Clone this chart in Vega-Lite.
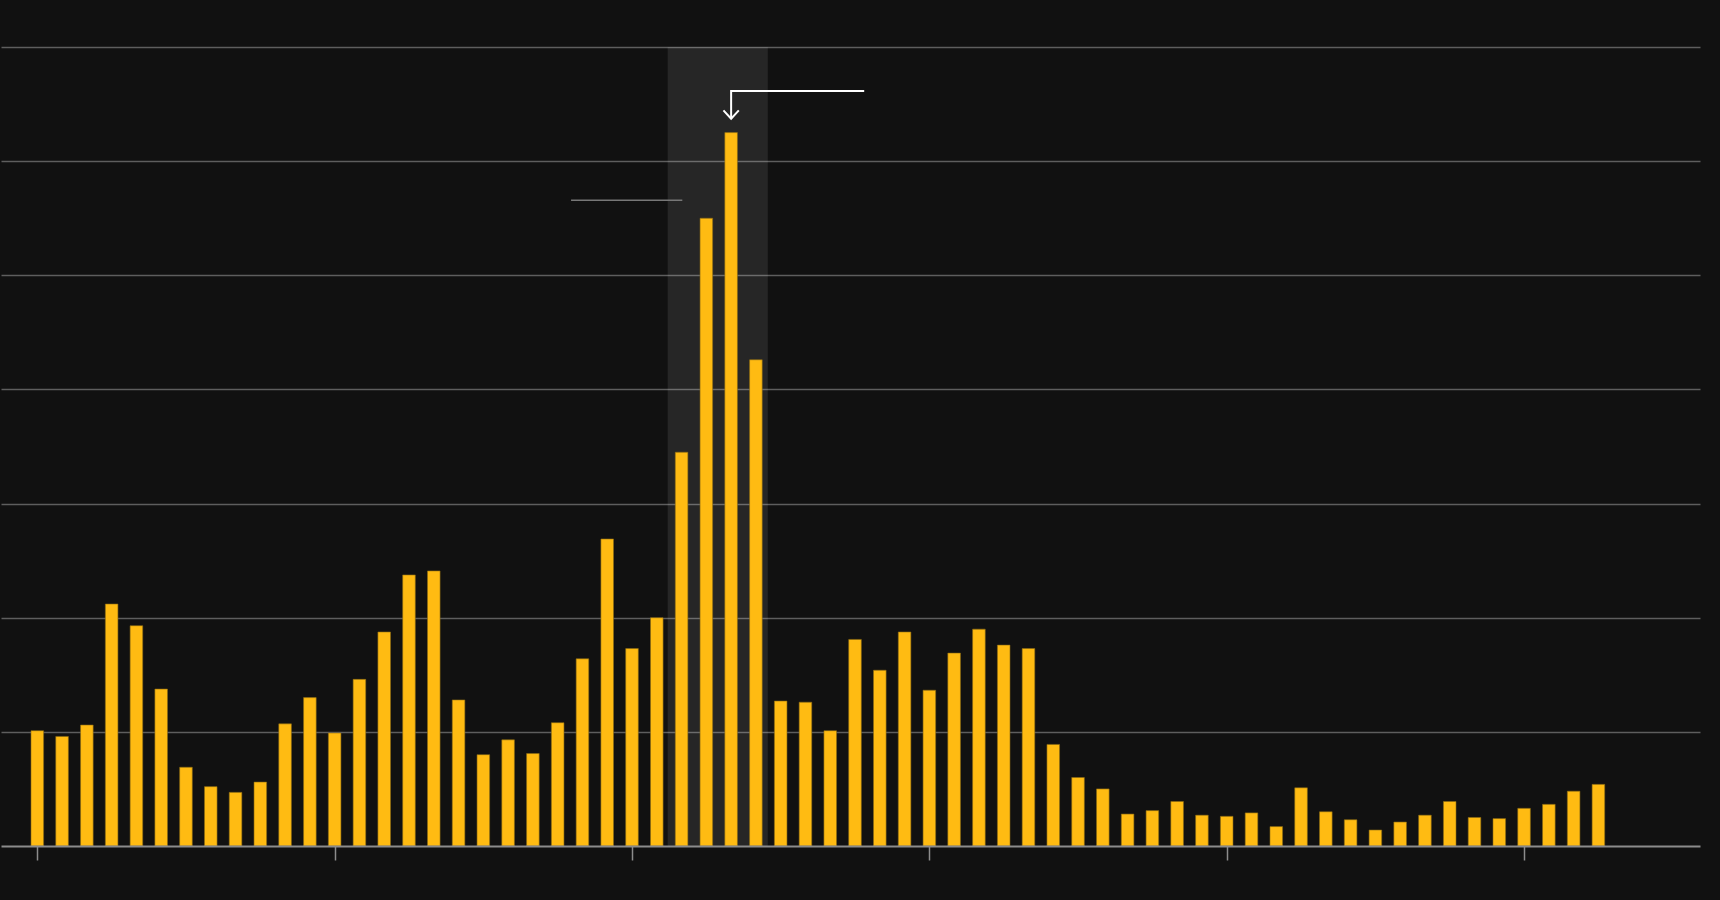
{
  "$schema": "https://vega.github.io/schema/vega-lite/v6.json",
  "autosize": "none",
  "width": 1699,
  "height": 799,
  "padding": {"left": 1, "top": 47, "right": 20, "bottom": 54},
  "background": "#111111",
  "config": {
    "view": {"stroke": null},
    "axis": {"labels": false, "title": null}
  },
  "datasets": {
    "bars": [
      {"i": 0, "v": 10.1}, {"i": 1, "v": 9.6}, {"i": 2, "v": 10.6}, {"i": 3, "v": 21.2},
      {"i": 4, "v": 19.3}, {"i": 5, "v": 13.75}, {"i": 6, "v": 6.9}, {"i": 7, "v": 5.2},
      {"i": 8, "v": 4.7}, {"i": 9, "v": 5.6}, {"i": 10, "v": 10.7}, {"i": 11, "v": 13.0},
      {"i": 12, "v": 9.9}, {"i": 13, "v": 14.6}, {"i": 14, "v": 18.75}, {"i": 15, "v": 23.75},
      {"i": 16, "v": 24.1}, {"i": 17, "v": 12.8}, {"i": 18, "v": 8.0}, {"i": 19, "v": 9.3},
      {"i": 20, "v": 8.1}, {"i": 21, "v": 10.8}, {"i": 22, "v": 16.4}, {"i": 23, "v": 26.9},
      {"i": 24, "v": 17.3}, {"i": 25, "v": 20.0}, {"i": 26, "v": 34.5}, {"i": 27, "v": 55.0},
      {"i": 28, "v": 62.5}, {"i": 29, "v": 42.6}, {"i": 30, "v": 12.7}, {"i": 31, "v": 12.6},
      {"i": 32, "v": 10.1}, {"i": 33, "v": 18.1}, {"i": 34, "v": 15.4}, {"i": 35, "v": 18.75},
      {"i": 36, "v": 13.65}, {"i": 37, "v": 16.9}, {"i": 38, "v": 19.0}, {"i": 39, "v": 17.6},
      {"i": 40, "v": 17.3}, {"i": 41, "v": 8.9}, {"i": 42, "v": 6.0}, {"i": 43, "v": 5.0},
      {"i": 44, "v": 2.8}, {"i": 45, "v": 3.1}, {"i": 46, "v": 3.9}, {"i": 47, "v": 2.7},
      {"i": 48, "v": 2.6}, {"i": 49, "v": 2.9}, {"i": 50, "v": 1.7}, {"i": 51, "v": 5.1},
      {"i": 52, "v": 3.0}, {"i": 53, "v": 2.3}, {"i": 54, "v": 1.4}, {"i": 55, "v": 2.1},
      {"i": 56, "v": 2.7}, {"i": 57, "v": 3.9}, {"i": 58, "v": 2.5}, {"i": 59, "v": 2.4},
      {"i": 60, "v": 3.3}, {"i": 61, "v": 3.65}, {"i": 62, "v": 4.8}, {"i": 63, "v": 5.4}
    ]
  },
  "layer": [
    {
      "data": {"values": [{"a": 25.44, "b": 29.48, "lo": 0, "hi": 70}]},
      "mark": {"type": "rect", "color": "#ffffff", "opacity": 0.09},
      "encoding": {
        "x": {"field": "a", "type": "quantitative", "scale": {"domain": [-1.465, 67.1], "nice": false, "zero": false, "padding": 0},
              "axis": {"values": [0, 12, 24, 36, 48, 60], "grid": false, "domainColor": "#8c8c8c", "domainWidth": 2, "tickColor": "#8c8c8c", "tickSize": 14, "tickWidth": 1.5, "zindex": 1}},
        "x2": {"field": "b"},
        "y": {"field": "lo", "type": "quantitative", "scale": {"domain": [0, 70], "nice": false, "padding": 0},
              "axis": {"values": [10, 20, 30, 40, 50, 60, 70], "domain": false, "ticks": false, "grid": true, "gridColor": "#5e5e5e", "gridWidth": 1.6}},
        "y2": {"field": "hi"}
      }
    },
    {
      "data": {"name": "bars"},
      "mark": {"type": "bar", "color": "#FFBB12", "size": 12.6, "stroke": "#8a6a14", "strokeWidth": 0.6},
      "encoding": {
        "x": {"field": "i", "type": "quantitative"},
        "y": {"field": "v", "type": "quantitative"}
      }
    },
    {
      "data": {"values": [{"x": 21.54, "x2": 26.03, "y": 56.57}]},
      "mark": {"type": "rule", "color": "#777777", "strokeWidth": 1.5},
      "encoding": {
        "x": {"field": "x", "type": "quantitative"},
        "x2": {"field": "x2"},
        "y": {"field": "y", "type": "quantitative"}
      }
    },
    {
      "data": {"values": [
        {"g": "elbow", "o": 0, "x": 33.37, "y": 66.15},
        {"g": "elbow", "o": 1, "x": 28.0, "y": 66.15},
        {"g": "elbow", "o": 2, "x": 28.0, "y": 63.72},
        {"g": "head", "o": 0, "x": 27.69, "y": 64.45},
        {"g": "head", "o": 1, "x": 28.0, "y": 63.72},
        {"g": "head", "o": 2, "x": 28.31, "y": 64.45}
      ]},
      "mark": {"type": "line", "color": "#ffffff", "strokeWidth": 2},
      "encoding": {
        "x": {"field": "x", "type": "quantitative"},
        "y": {"field": "y", "type": "quantitative"},
        "detail": {"field": "g"},
        "order": {"field": "o"}
      }
    }
  ]
}
